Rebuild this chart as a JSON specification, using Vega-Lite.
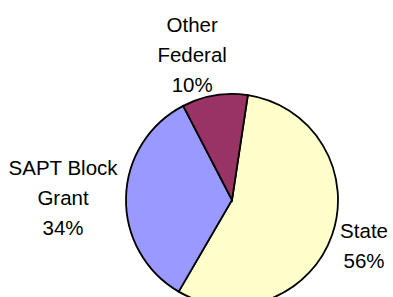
{
  "$schema": "https://vega.github.io/schema/vega-lite/v6.json",
  "width": 322,
  "height": 194,
  "autosize": {"type": "none"},
  "padding": {"left": 71, "top": 103, "right": 0, "bottom": 0},
  "background": "white",
  "view": {"stroke": null},
  "data": {
    "values": [
      {"source": "State", "value": 56, "label": "State\n56%"},
      {"source": "SAPT Block Grant", "value": 34, "label": "SAPT Block\nGrant\n34%"},
      {"source": "Other Federal", "value": 10, "label": "Other\nFederal\n10%"}
    ]
  },
  "encoding": {
    "theta": {"field": "value", "type": "quantitative", "stack": true, "scale": {"range": [0.15, 6.4332]}},
    "order": {"field": "value", "type": "quantitative", "sort": "descending"},
    "detail": {"field": "source", "type": "nominal"}
  },
  "layer": [
    {
      "mark": {"type": "arc", "radius": 106, "stroke": "black", "strokeWidth": 1.8},
      "encoding": {
        "color": {
          "field": "source",
          "type": "nominal",
          "scale": {"domain": ["State", "SAPT Block Grant", "Other Federal"], "range": ["#FFFFCC", "#9999FF", "#993366"]},
          "legend": null
        }
      }
    },
    {
      "mark": {"type": "text", "radius": 140, "dy": -14, "font": "Liberation Sans", "fontSize": 20.5, "lineBreak": "\n", "lineHeight": 30, "align": "center", "baseline": "middle", "fill": "black"},
      "encoding": {"text": {"condition": {"test": "datum.source === 'State'", "field": "label", "type": "nominal"}, "value": ""}}
    },
    {
      "mark": {"type": "text", "radius": 169, "dy": -27, "font": "Liberation Sans", "fontSize": 20.5, "lineBreak": "\n", "lineHeight": 30, "align": "center", "baseline": "middle", "fill": "black"},
      "encoding": {"text": {"condition": {"test": "datum.source === 'SAPT Block Grant'", "field": "label", "type": "nominal"}, "value": ""}}
    },
    {
      "mark": {"type": "text", "radius": 146, "dx": -16, "dy": -30, "font": "Liberation Sans", "fontSize": 20.5, "lineBreak": "\n", "lineHeight": 30, "align": "center", "baseline": "middle", "fill": "black"},
      "encoding": {"text": {"condition": {"test": "datum.source === 'Other Federal'", "field": "label", "type": "nominal"}, "value": ""}}
    }
  ]
}
